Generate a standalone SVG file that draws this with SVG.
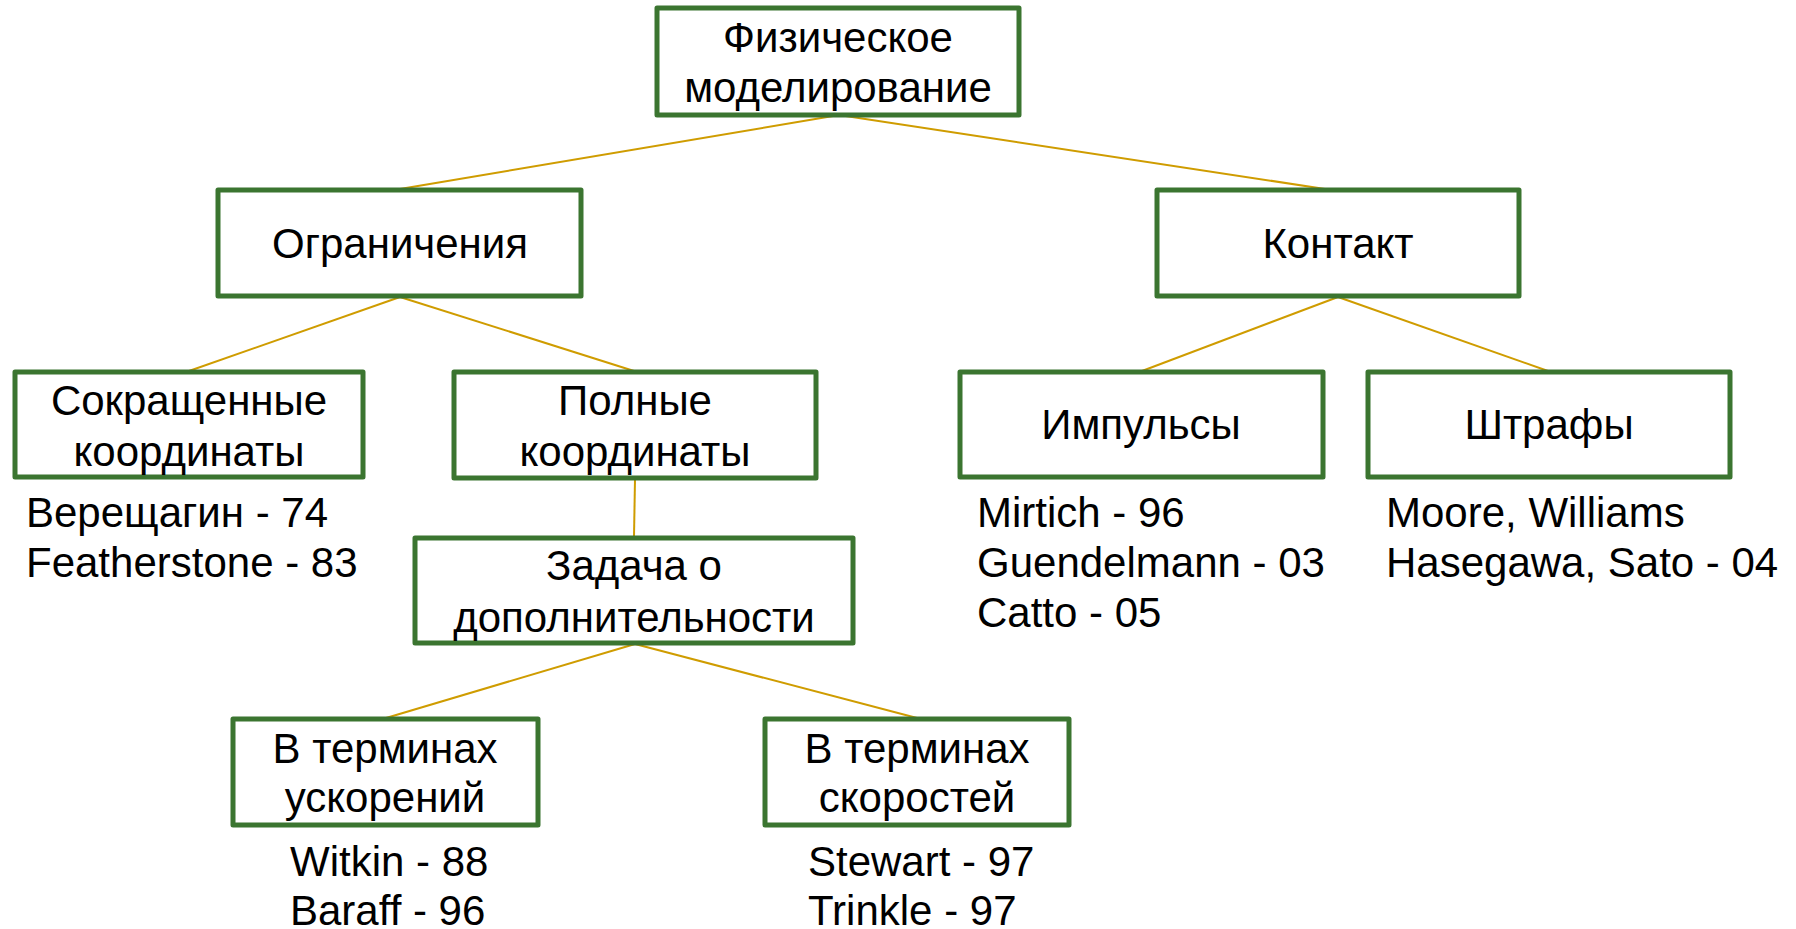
<svg xmlns="http://www.w3.org/2000/svg" width="1796" height="929" viewBox="0 0 1796 929">
<style>
.box{fill:#fff;stroke:#3b7530;stroke-width:5;stroke-linejoin:round}
.lbl{font-family:"Liberation Sans",Arial,sans-serif;font-size:42px;fill:#000;text-anchor:middle}
.ref{font-family:"Liberation Sans",Arial,sans-serif;font-size:42px;fill:#000}
.conn{stroke:#cf9c00;stroke-width:2;fill:none}
</style>
<rect width="1796" height="929" fill="#fff"/>
<g id="connectors">
<line class="conn" x1="839" y1="115" x2="400" y2="189"/>
<line class="conn" x1="839" y1="115" x2="1325" y2="189"/>
<line class="conn" x1="400" y1="297" x2="189" y2="371"/>
<line class="conn" x1="400" y1="297" x2="634" y2="371"/>
<line class="conn" x1="635" y1="479" x2="634" y2="537"/>
<line class="conn" x1="635" y1="644" x2="386" y2="718"/>
<line class="conn" x1="635" y1="644" x2="917" y2="718"/>
<line class="conn" x1="1338" y1="297" x2="1142" y2="371"/>
<line class="conn" x1="1338" y1="297" x2="1548" y2="371"/>
</g>
<g id="n-root">
<rect class="box" x="657" y="8" width="362" height="107"/>
<text class="lbl" x="838" y="52">Физическое</text>
<text class="lbl" x="838" y="102">моделирование</text>
</g>
<g id="n-constraints">
<rect class="box" x="218" y="190" width="363" height="106"/>
<text class="lbl" x="400" y="258">Ограничения</text>
</g>
<g id="n-reduced">
<rect class="box" x="15" y="372" width="348" height="105"/>
<text class="lbl" x="189" y="415">Сокращенные</text>
<text class="lbl" x="189" y="466">координаты</text>
</g>
<g id="n-full">
<rect class="box" x="454" y="372" width="362" height="106"/>
<text class="lbl" x="635" y="415">Полные</text>
<text class="lbl" x="635" y="466">координаты</text>
</g>
<g id="n-lcp">
<rect class="box" x="415" y="538" width="438" height="105"/>
<text class="lbl" x="634" y="580">Задача о</text>
<text class="lbl" x="634" y="632">дополнительности</text>
</g>
<g id="n-accel">
<rect class="box" x="233" y="719" width="305" height="106"/>
<text class="lbl" x="385" y="763">В терминах</text>
<text class="lbl" x="385" y="812">ускорений</text>
</g>
<g id="n-vel">
<rect class="box" x="765" y="719" width="304" height="106"/>
<text class="lbl" x="917" y="763">В терминах</text>
<text class="lbl" x="917" y="812">скоростей</text>
</g>
<g id="n-contact">
<rect class="box" x="1157" y="190" width="362" height="106"/>
<text class="lbl" x="1338" y="258">Контакт</text>
</g>
<g id="n-impulse">
<rect class="box" x="960" y="372" width="363" height="105"/>
<text class="lbl" x="1141" y="439">Импульсы</text>
</g>
<g id="n-penalty">
<rect class="box" x="1368" y="372" width="362" height="105"/>
<text class="lbl" x="1549" y="439">Штрафы</text>
</g>
<g id="refs">
<text class="ref" x="26" y="527">Верещагин - 74</text>
<text class="ref" x="26" y="577">Featherstone - 83</text>
<text class="ref" x="977" y="527">Mirtich - 96</text>
<text class="ref" x="977" y="577">Guendelmann - 03</text>
<text class="ref" x="977" y="627">Catto - 05</text>
<text class="ref" x="1386" y="527">Moore, Williams</text>
<text class="ref" x="1386" y="577">Hasegawa, Sato - 04</text>
<text class="ref" x="290" y="876">Witkin - 88</text>
<text class="ref" x="290" y="925">Baraff - 96</text>
<text class="ref" x="808" y="876">Stewart - 97</text>
<text class="ref" x="808" y="925">Trinkle - 97</text>
</g>
</svg>
